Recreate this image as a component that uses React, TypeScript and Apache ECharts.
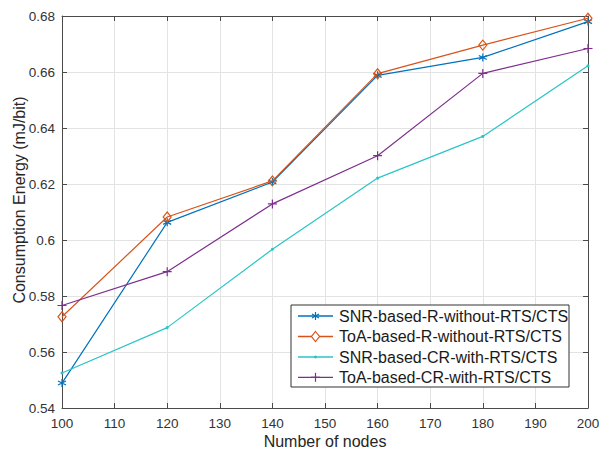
import React, { useEffect, useRef } from "react";
import * as echarts from "echarts";

const xNodes = [100, 120, 140, 160, 180, 200];
const snrR = [0.5489, 0.6063, 0.6207, 0.6588, 0.6652, 0.6780];
const toaR = [0.5726, 0.6082, 0.6211, 0.6594, 0.6696, 0.6792];
const snrCR = [0.5525, 0.5687, 0.5967, 0.6221, 0.6370, 0.6622];
const toaCR = [0.5766, 0.5887, 0.6129, 0.6301, 0.6595, 0.6684];
const seriesNames = [
  "SNR-based-R-without-RTS/CTS",
  "ToA-based-R-without-RTS/CTS",
  "SNR-based-CR-with-RTS/CTS",
  "ToA-based-CR-with-RTS/CTS",
];
const colors = ["#0072BD", "#D95319", "#2CC4C6", "#7E2F8E"];

const FONT = "'Liberation Sans', Arial, Helvetica, sans-serif";
const ASTER = "path://M0,-5L0,5M-4.5,-2.5L4.5,2.5M-4.5,2.5L4.5,-2.5";
const PLUS = "path://M0,-5L0,5M-5,0L5,0";
const LZ = 100;

function legendMarker(i: number, cx: number, cy: number, color: string): any[] {
  const ls = { stroke: color, lineWidth: 1.2 };
  if (i === 0) {
    return [
      { type: "line", z: LZ + 2, shape: { x1: cx, y1: cy - 4, x2: cx, y2: cy + 4 }, style: ls },
      { type: "line", z: LZ + 2, shape: { x1: cx - 3.5, y1: cy - 2, x2: cx + 3.5, y2: cy + 2 }, style: ls },
      { type: "line", z: LZ + 2, shape: { x1: cx - 3.5, y1: cy + 2, x2: cx + 3.5, y2: cy - 2 }, style: ls },
    ];
  }
  if (i === 1) {
    return [
      {
        type: "polygon",
        z: LZ + 2,
        shape: { points: [[cx, cy - 5], [cx + 4, cy], [cx, cy + 5], [cx - 4, cy]] },
        style: { fill: "#fff", stroke: color, lineWidth: 1.2 },
      },
    ];
  }
  if (i === 2) {
    return [{ type: "circle", z: LZ + 2, shape: { cx, cy, r: 1.5 }, style: { fill: color } }];
  }
  return [
    { type: "line", z: LZ + 2, shape: { x1: cx, y1: cy - 4.5, x2: cx, y2: cy + 4.5 }, style: ls },
    { type: "line", z: LZ + 2, shape: { x1: cx - 4.5, y1: cy, x2: cx + 4.5, y2: cy }, style: ls },
  ];
}

export default function App() {
  const ref = useRef<HTMLDivElement>(null);
  useEffect(() => {
    const chart = echarts.init(ref.current!, null, { renderer: "svg" });
    const pairs = (ys: number[]) => xNodes.map((x, i) => [x, ys[i]]);
    const datas = [snrR, toaR, snrCR, toaCR];
    const symbols = [ASTER, "diamond", "circle", PLUS];
    const sizes: any[] = [8, [8, 10], 3, 9];
    const axisLine = { show: true, lineStyle: { color: "#4a4a4a", width: 1 } };
    const axisTick = { show: true, inside: true, length: 5, lineStyle: { color: "#4a4a4a" } };

    const lgLeft = 291, lgTop = 305, lgW = 278, lgH = 82;
    const rowY = [316, 336.5, 357, 377.3];
    const legendChildren: any[] = [
      {
        type: "rect",
        z: LZ,
        shape: { x: lgLeft, y: lgTop, width: lgW, height: lgH },
        style: { fill: "#fff", stroke: "#333", lineWidth: 1 },
      },
    ];
    seriesNames.forEach((name, i) => {
      const y = rowY[i];
      legendChildren.push({
        type: "line",
        z: LZ + 1,
        shape: { x1: 298, y1: y, x2: 333, y2: y },
        style: { stroke: colors[i], lineWidth: 1.3 },
      });
      legendChildren.push(...legendMarker(i, 315.5, y, colors[i]));
      legendChildren.push({
        type: "text",
        z: LZ + 1,
        x: 339,
        y: y,
        style: {
          text: name,
          fill: "#1a1a1a",
          font: `16px ${FONT}`,
          verticalAlign: "middle",
          align: "left",
        },
      });
    });

    chart.setOption({
      animation: false,
      backgroundColor: "#fff",
      grid: {
        left: 62,
        right: 11,
        top: 16,
        bottom: 42,
        containLabel: false,
        outerBoundsMode: "none",
      },
      xAxis: [
        {
          type: "value",
          min: 100,
          max: 200,
          interval: 10,
          name: "Number of nodes",
          nameLocation: "middle",
          nameGap: 25,
          nameMoveOverlap: false,
          nameTextStyle: { fontFamily: FONT, fontSize: 16, color: "#262626" },
          axisLine,
          axisTick,
          axisLabel: { fontFamily: FONT, fontSize: 13.5, color: "#333", margin: 8 },
          splitLine: { show: true, lineStyle: { color: "#e3e3e3", width: 1 } },
        },
        {
          type: "value",
          position: "top",
          min: 100,
          max: 200,
          interval: 10,
          axisLine,
          axisTick,
          axisLabel: { show: false },
          splitLine: { show: false },
        },
      ],
      yAxis: [
        {
          type: "value",
          min: 0.54,
          max: 0.68,
          interval: 0.02,
          name: "Consumption Energy (mJ/bit)",
          nameLocation: "middle",
          nameGap: 35,
          nameMoveOverlap: false,
          nameTextStyle: {
            fontFamily: FONT,
            fontSize: 16,
            color: "#262626",
            padding: [0, 0, 0, 24],
          },
          axisLine,
          axisTick,
          axisLabel: {
            fontFamily: FONT,
            fontSize: 13.5,
            color: "#333",
            margin: 7,
            formatter: (v: number) => String(parseFloat(v.toFixed(2))),
          },
          splitLine: { show: true, lineStyle: { color: "#e3e3e3", width: 1 } },
        },
        {
          type: "value",
          position: "right",
          min: 0.54,
          max: 0.68,
          interval: 0.02,
          axisLine,
          axisTick,
          axisLabel: { show: false },
          splitLine: { show: false },
        },
      ],
      graphic: { elements: [{ type: "group", z: LZ, children: legendChildren }] },
      series: datas.map((d, i) => ({
        name: seriesNames[i],
        type: "line",
        data: pairs(d),
        symbol: symbols[i],
        symbolSize: sizes[i],
        showSymbol: true,
        lineStyle: { color: colors[i], width: 1.2 },
        itemStyle:
          i === 2
            ? { color: colors[i], borderColor: colors[i], borderWidth: 0 }
            : { color: "transparent", borderColor: colors[i], borderWidth: 1.2 },
        emphasis: { disabled: true },
        z: 2 + i,
      })),
    });
    return () => chart.dispose();
  }, []);
  return (
    <div
      ref={ref}
      style={{ width: 599, height: 450, position: "fixed", left: 0, top: 0 }}
    />
  );
}
